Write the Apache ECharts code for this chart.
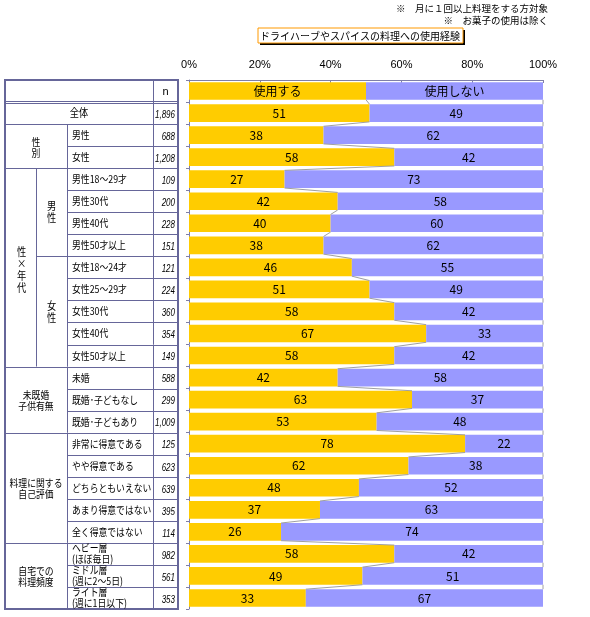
<!DOCTYPE html>
<html><head><meta charset="utf-8">
<script src="https://cdn.jsdelivr.net/npm/echarts@6/dist/echarts.min.js"></script>
<style>html,body{margin:0;padding:0;background:#fff}#c{width:590px;height:617px}</style>
</head><body><div id="c"></div>
<script>
// ---- data ----
const legendNames = ['使用する', '使用しない'];
const title = 'ドライハーブやスパイスの料理への使用経験';
const notes = ['※　月に１回以上料理をする方対象', '※　お菓子の使用は除く'];
const categories = ['凡例', '全体', '男性', '女性', '男性18～29才', '男性30代', '男性40代', '男性50才以上',
  '女性18～24才', '女性25～29才', '女性30代', '女性40代', '女性50才以上',
  '未婚', '既婚･子どもなし', '既婚･子どもあり',
  '非常に得意である', 'やや得意である', 'どちらともいえない', 'あまり得意ではない', '全く得意ではない',
  'ヘビー層\n(ほぼ毎日)', 'ミドル層\n(週に2～5日)', 'ライト層\n(週に1日以下)'];
const useVals = [50, 51, 38, 58, 27, 42, 40, 38, 46, 51, 58, 67, 58, 42, 63, 53, 78, 62, 48, 37, 26, 58, 49, 33];
const notVals = [50, 49, 62, 42, 73, 58, 60, 62, 55, 49, 42, 33, 42, 58, 37, 48, 22, 38, 52, 63, 74, 42, 51, 67];
const nValues = ['n', '1,896', '688', '1,208', '109', '200', '228', '151', '121', '224', '360', '354', '149',
  '588', '299', '1,009', '125', '623', '639', '395', '114', '982', '561', '353'];
const xTicks = [0, 20, 40, 60, 80, 100];
// group labels of the left table: [text, firstRow, lastRow, column]
const groups = [
  ['性\n別', 2, 3, 'wide'],
  ['性\n×\n年\n代', 4, 12, 'c1'],
  ['男\n性', 4, 7, 'c2'],
  ['女\n性', 8, 12, 'c2'],
  ['未既婚\n子供有無', 13, 15, 'wide'],
  ['料理に関する\n自己評価', 16, 20, 'wide'],
  ['自宅での\n料理頻度', 21, 23, 'wide']
];

// ---- chart ----
const JP = '"Noto Sans CJK JP", sans-serif';
const LINE = '#666699';
const chart = echarts.init(document.getElementById('c'), null, {renderer: 'canvas'});
const BARFR = 0.8;

const seriesLineData = [];
for (let i = 0; i < useVals.length - 1; i++) seriesLineData.push([i, useVals[i], useVals[i + 1]]);

chart.setOption({
  animation: false,
  backgroundColor: '#fff',
  grid: {left: 189, right: 47, top: 80, bottom: 8},
  xAxis: {
    type: 'value', position: 'top', min: xTicks[0], max: xTicks[xTicks.length - 1], interval: 20,
    axisLine: {show: true, lineStyle: {color: '#7f7fa8'}},
    axisTick: {show: true, inside: true, length: 3, lineStyle: {color: '#7f7fa8'}},
    splitLine: {show: false},
    axisLabel: {formatter: '{value}%', color: '#000', fontSize: 11, fontFamily: 'Liberation Sans', margin: 10}
  },
  yAxis: {
    type: 'category', inverse: true, data: categories,
    axisLine: {show: true, lineStyle: {color: '#7f7fa8'}},
    axisTick: {show: true, length: 3, lineStyle: {color: '#7f7fa8'}},
    axisLabel: {show: false}
  },
  series: [
    {
      name: legendNames[0], type: 'bar', stack: 's', data: useVals, barCategoryGap: '20%',
      itemStyle: {color: '#FFCC00'},
      label: {show: true, position: 'inside', color: '#000', fontSize: 12, fontFamily: JP,
        formatter: p => p.dataIndex === 0 ? legendNames[0] : String(p.value)}
    },
    {
      name: legendNames[1], type: 'bar', stack: 's', data: notVals, clip: true,
      itemStyle: {color: '#9999FF'},
      label: {show: true, position: 'inside', color: '#000', fontSize: 12, fontFamily: JP,
        formatter: p => p.dataIndex === 0 ? legendNames[1] : String(p.value)}
    },
    {
      type: 'custom', data: seriesLineData, silent: true, z: 5,
      renderItem: function (params, api) {
        const i = api.value(0);
        const h = api.size([0, 1])[1] * BARFR / 2;
        const a = api.coord([api.value(1), i]);
        const b = api.coord([api.value(2), i + 1]);
        const c = api.coord([xTicks[xTicks.length - 1], i]);
        const d = api.coord([xTicks[xTicks.length - 1], i + 1]);
        const st = {stroke: '#a0a0a0', lineWidth: 1};
        return {type: 'group', children: [
          {type: 'line', shape: {x1: a[0], y1: a[1] + h, x2: b[0], y2: b[1] - h}, style: st},
          {type: 'line', shape: {x1: c[0], y1: c[1] + h, x2: d[0], y2: d[1] - h}, style: st}
        ]};
      }
    }
  ]
});

// ---- left table + texts, rows positioned from the category axis ----
const yc = i => chart.convertToPixel({yAxisIndex: 0}, i);
const pitch = yc(1) - yc(0);
const rowTop = i => yc(i) - pitch / 2;
const rowBot = i => yc(i) + pitch / 2;
const X0 = 5, C1 = 36, C2 = 67, CN = 153, XR = 178;
const SX = 0.84;
const g = [];
function hline(x1, x2, y, w) { g.push({type: 'line', shape: {x1, y1: y, x2, y2: y}, style: {stroke: LINE, lineWidth: w || 1}}); }
function vline(x, y1, y2, w) { g.push({type: 'line', shape: {x1: x, y1, x2: x, y2}, style: {stroke: LINE, lineWidth: w || 1}}); }
function text(t, x, y, align, font, lh, sx) {
  g.push({type: 'text', x, y, scaleX: sx || 1, z: 10,
    style: {text: t, fill: '#000', align, verticalAlign: 'middle', font, lineHeight: lh || 12}});
}
const tTop = rowTop(0), tBot = rowBot(categories.length - 1);
const snap = v => Math.round(v) + 0.5;
// inner lines
vline(CN + 0.5, tTop, tBot);
hline(X0, XR, snap(rowBot(0)) - 1);
hline(X0, XR, snap(rowBot(0)) + 1);
const groupEnd = {};
groups.forEach(gr => { if (gr[3] !== 'c2') groupEnd[gr[2]] = true; });
for (let i = 1; i < categories.length - 1; i++) {
  const y = snap(rowBot(i));
  if (i === 1 || groupEnd[i]) hline(X0, XR, y);
  else if (i === 7) hline(C1, XR, y);
  else hline(C2, XR, y);
}
groups.forEach(gr => {
  const [t, a, b, col] = gr;
  const y1 = rowTop(a), y2 = rowBot(b), cy = (y1 + y2) / 2;
  if (col === 'c1') { vline(C1 + 0.5, y1, y2); text(t, (X0 + C1) / 2 + 1, cy + 2, 'center', '11px ' + JP, 12, SX); }
  else if (col === 'c2') { vline(C2 + 0.5, y1, y2); text(t, (C1 + C2) / 2, cy, 'center', '11px ' + JP, 12, SX); }
  else { vline(C2 + 0.5, y1, y2); text(t, (X0 + C2) / 2, cy + 1, 'center', '10.5px ' + JP, 11, SX); }
});
// outer border
g.push({type: 'rect', shape: {x: X0, y: tTop, width: XR - X0, height: tBot - tTop}, style: {fill: null, stroke: LINE, lineWidth: 2}});
// row labels and n
for (let i = 0; i < categories.length; i++) {
  const cy = yc(i);
  if (i === 1) text(categories[i], (X0 + CN) / 2, cy, 'center', '11px ' + JP, 12, SX);
  else if (i > 1) text(categories[i], 72, cy, 'left', '10.5px ' + JP, 11, SX);
  if (i === 0) text(nValues[i], (CN + XR) / 2, cy + 1, 'center', '11px Liberation Sans');
  else text(nValues[i], XR - 3, cy + 2, 'right', 'italic 10px Liberation Sans', 12, 0.8);
}
// title box
g.push({type: 'rect', shape: {x: 260, y: 30, width: 205, height: 15}, style: {fill: '#000'}});
g.push({type: 'rect', shape: {x: 258, y: 28, width: 205, height: 15}, style: {fill: '#fff', stroke: '#FF9900', lineWidth: 1}});
text(title, 260, 36, 'left', '10px ' + JP);
text(notes[0], 548, 8, 'right', '9.5px ' + JP);
text(notes[1], 548, 20, 'right', '9.5px ' + JP);
chart.setOption({graphic: {elements: g}});
</script></body></html>
